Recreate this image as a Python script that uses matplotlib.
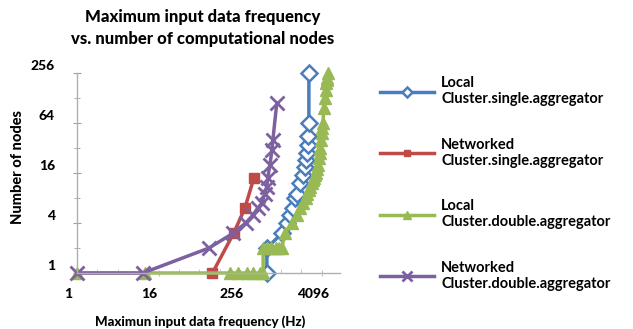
import matplotlib
matplotlib.use("Agg")
import matplotlib.pyplot as plt
import matplotlib.transforms as mtransforms
from matplotlib.ticker import NullFormatter

plt.rcParams["font.family"] = ["Lato", "DejaVu Sans"]

# Local Cluster, single aggregator
local_single_freq = [636, 636, 1060, 1255, 1390, 1540, 1680, 1763, 1952, 2162,
                     2320, 2394, 2470, 2556, 2600, 2652, 2652]
local_single_nodes = [1, 2, 3, 4, 5, 6, 8, 9, 12, 15, 19, 23, 28, 35, 45, 64, 256]

# Networked Cluster, single aggregator
net_single_freq = [100, 205, 300, 410]
net_single_nodes = [1, 3, 6, 14]

# Local Cluster, double aggregator
local_double_freq = [1, 10, 181, 237, 322, 395, 505, 560, 560, 640, 740, 860, 960, 1060,
                     1173, 1488, 1763, 1952, 2162, 2394, 2520, 2652, 2800, 2936, 3040, 3143,
                     3260, 3364, 3480, 3600, 3725, 3820, 3919, 4053, 4124, 4200, 4268,
                     4420, 4567, 4726, 4810, 4888, 4970, 5058]
local_double_nodes = [1, 1, 1, 1, 1, 1, 1, 1, 2, 2, 2, 2, 2, 2,
                      3, 4, 5, 6, 7, 8, 9, 10, 11, 12, 13, 14,
                      15, 16, 18, 20, 24, 28, 32, 40, 48, 56, 64,
                      96, 128, 160, 192, 208, 224, 256]

# Networked Cluster, double aggregator
net_double_freq = [1, 9.4, 89, 200, 311, 396, 468, 537, 590, 636, 656, 705, 755, 780, 890]
net_double_nodes = [1, 1, 2, 3, 4, 5, 6, 7, 9, 11, 14, 20, 30, 40, 110]

series_labels = [
    "Local\nCluster.single.aggregator",
    "Networked\nCluster.single.aggregator",
    "Local\nCluster.double.aggregator",
    "Networked\nCluster.double.aggregator",
]

x_ticks = [1, 16, 256, 4096]
y_ticks = [1, 4, 16, 64, 256]

BLUE = "#4a7ebb"
RED = "#be4b48"
GREEN = "#98b954"
PURPLE = "#7d60a0"

fig = plt.figure(figsize=(6.33, 3.29), dpi=100)
ax = fig.add_axes([77 / 633, 56 / 329, 263 / 633, 200 / 329])

ax.plot(local_single_freq, local_single_nodes, color=BLUE, lw=2.5, marker="D",
        ms=8, mfc="white", mec=BLUE, mew=1.8, clip_on=False, label=series_labels[0])
ax.plot(net_single_freq, net_single_nodes, color=RED, lw=2.5, marker="s",
        ms=7, mfc=RED, mec=RED, clip_on=False, label=series_labels[1])
ax.plot(local_double_freq, local_double_nodes, color=GREEN, lw=2.5, marker="^",
        ms=8.5, mfc=GREEN, mec=GREEN, clip_on=False, label=series_labels[2])
ax.plot(net_double_freq, net_double_nodes, color=PURPLE, lw=2.5, marker="x",
        ms=10, mew=2, clip_on=False, label=series_labels[3])

ax.set_xscale("log", base=2)
ax.set_yscale("log", base=2)
ax.set_xlim(1, 2 ** 12.9)
ax.set_ylim(1, 256)

ax.set_xticks(x_ticks, [str(v) for v in x_ticks])
ax.set_yticks(y_ticks, [str(v) for v in y_ticks])
ax.set_yticks([2, 8, 32, 128], minor=True)
ax.set_xticks([2 ** k for k in range(1, 13) if k % 4], minor=True)
ax.xaxis.set_minor_formatter(NullFormatter())
ax.yaxis.set_minor_formatter(NullFormatter())

for side in ("top", "right"):
    ax.spines[side].set_visible(False)
for side in ("left", "bottom"):
    ax.spines[side].set_color("#b0b0b0")
    ax.spines[side].set_linewidth(1.0)

ax.tick_params(axis="y", which="major", direction="inout", length=6, color="#a0a0a0",
               pad=13, labelsize=10)
ax.tick_params(axis="y", which="minor", direction="inout", length=4, color="#a0a0a0")
ax.tick_params(axis="x", which="major", direction="inout", length=4, color="#c0c0c0",
               pad=9, labelsize=10)
ax.tick_params(axis="x", which="minor", direction="in", length=3, color="#c0c0c0")

for lab in ax.get_xticklabels() + ax.get_yticklabels():
    lab.set_fontweight("black")

# tick labels sit a little off their ticks
dx = mtransforms.ScaledTranslation(-9 / 100, 0, fig.dpi_scale_trans)
dy = mtransforms.ScaledTranslation(0, 8 / 100, fig.dpi_scale_trans)
for tick in ax.xaxis.get_major_ticks():
    tick.label1.set_transform(tick.label1.get_transform() + dx)
for tick in ax.yaxis.get_major_ticks():
    tick.label1.set_transform(tick.label1.get_transform() + dy)

fig.text(203 / 633, 1 - 28 / 329, "Maximum input data frequency\nvs. number of computational nodes",
         ha="center", va="center", fontsize=12, fontweight="black", linespacing=1.4)
fig.text(200 / 633, 1 - 322 / 329, "Maximun input data frequency (Hz)",
         ha="center", va="center", fontsize=9.5, fontweight="black")
fig.text(18 / 633, 1 - 167 / 329, "Number of nodes", rotation=90,
         ha="center", va="center", fontsize=10.5, fontweight="black")

handles, labels = ax.get_legend_handles_labels()
leg = fig.legend(handles, labels, loc="upper left", bbox_to_anchor=(367 / 633, 1 - 63 / 329),
                 frameon=False, fontsize=10.5, handlelength=3.7, handletextpad=0.5,
                 labelspacing=2.15, markerscale=0.7)
for txt in leg.get_texts():
    txt.set_fontweight("bold")

fig.savefig("out.png", dpi=100)
